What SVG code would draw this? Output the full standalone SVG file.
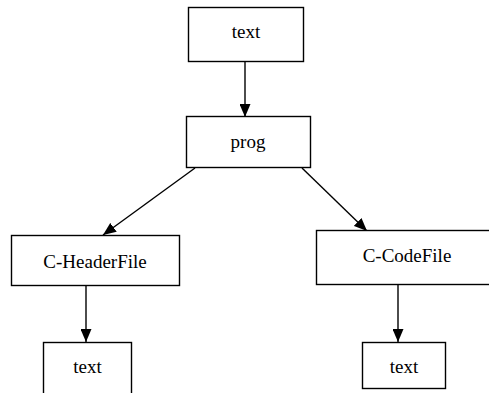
<svg xmlns="http://www.w3.org/2000/svg" width="489" height="393" viewBox="0 0 489 393">
<defs>
<style>
.node rect{fill:#ffffff;stroke:#000000;stroke-width:1.4}
.node text{font-family:"Liberation Serif","Times New Roman",serif;font-size:19px;fill:#000000;text-anchor:middle}
.edge{stroke:#000000;stroke-width:1.4;fill:none;marker-end:url(#ah)}
</style>
<marker id="ah" markerUnits="userSpaceOnUse" markerWidth="14" markerHeight="11" refX="13" refY="5.5" orient="auto">
<path d="M0,0 L13,5.5 L0,11 z" fill="#000000"/>
</marker>
</defs>
<rect x="0" y="0" width="489" height="393" fill="#ffffff"/>
<g id="connectors">
<line class="edge" x1="245" y1="61" x2="245" y2="117"/>
<line class="edge" x1="195" y1="168" x2="103" y2="235"/>
<line class="edge" x1="302" y1="168" x2="367" y2="231"/>
<line class="edge" x1="86" y1="286" x2="86" y2="342"/>
<line class="edge" x1="398" y1="285" x2="398" y2="342"/>
</g>
<g id="node-text-top" class="node">
<rect x="188.5" y="7.5" width="115" height="54"/>
<text x="246" y="38">text</text>
</g>
<g id="node-prog" class="node">
<rect x="186.5" y="116.5" width="124" height="51"/>
<text x="248" y="148">prog</text>
</g>
<g id="node-c-headerfile" class="node">
<rect x="11.5" y="235.5" width="168" height="50"/>
<text x="95" y="268">C-HeaderFile</text>
</g>
<g id="node-c-codefile" class="node">
<rect x="316.5" y="230.5" width="182" height="54"/>
<text x="407" y="262">C-CodeFile</text>
</g>
<g id="node-text-left" class="node">
<rect x="43.5" y="342.5" width="88" height="52"/>
<text x="87.5" y="373">text</text>
</g>
<g id="node-text-right" class="node">
<rect x="362.5" y="342.5" width="83" height="46"/>
<text x="404" y="373">text</text>
</g>
</svg>
